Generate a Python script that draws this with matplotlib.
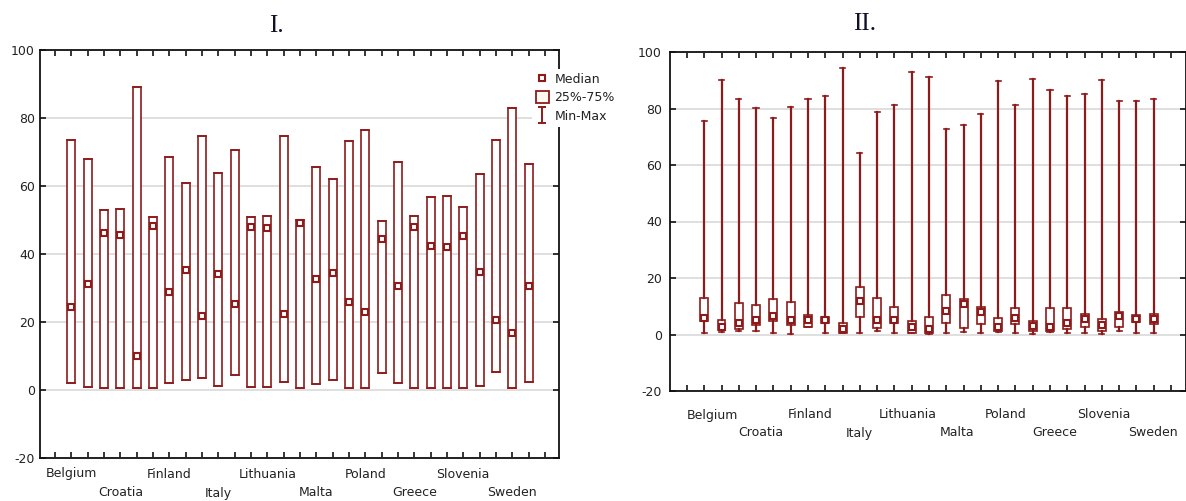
import numpy as np
import matplotlib
matplotlib.use("Agg")
import matplotlib.pyplot as plt
from matplotlib.patches import Patch
from matplotlib.lines import Line2D
from matplotlib.path import Path

plt.rcParams['font.family'] = ['DejaVu Sans']
plt.rcParams['axes.unicode_minus'] = False

# panel I: 29 groups, min/max coincide with the quartile box
left_q1 = [2.2, 1.0, 0.5, 0.5, 0.5, 0.5, 2.2, 2.9, 3.4, 1.3, 4.3, 1.0, 1.0, 2.5, 0.5,
           1.7, 2.9, 0.5, 0.5, 5.1, 2.2, 0.5, 0.5, 0.5, 0.5, 1.3, 5.4, 0.5, 2.5]
left_q3 = [73.5, 68.0, 52.9, 53.3, 89.0, 50.9, 68.5, 61.0, 74.8, 63.8, 70.6, 50.9, 51.2, 74.8, 50.0,
           65.7, 62.2, 73.1, 76.5, 49.7, 67.2, 51.2, 56.8, 57.2, 53.8, 63.5, 73.5, 82.8, 66.5]
left_med = [24.3, 31.1, 46.2, 45.6, 10.1, 48.3, 28.9, 35.3, 21.9, 34.1, 25.2, 48.0, 47.7, 22.3, 49.1,
            32.6, 34.3, 26.0, 23.0, 44.4, 30.7, 47.8, 42.4, 42.1, 45.4, 34.8, 20.6, 16.9, 30.7]

# panel II: 27 groups
right_min = [0.7, 1.0, 1.3, 1.3, 0.7, 0.3, 2.5, 0.4, 0.4, 0.7, 1.3, 0.7, 0.5, 0.3, 0.7,
             1.0, 0.7, 1.0, 0.7, 0.3, 1.0, 0.7, 0.7, 0.2, 1.3, 0.7, 0.7]
right_q1 = [4.8, 1.5, 1.9, 3.3, 4.8, 3.4, 2.5, 4.0, 0.4, 6.3, 2.2, 4.2, 0.7, 0.4, 4.2,
            2.2, 3.7, 1.1, 3.7, 1.3, 1.3, 2.1, 2.5, 1.3, 2.7, 4.5, 3.7]
right_med = [6.0, 2.5, 4.1, 5.1, 6.4, 5.2, 5.1, 5.1, 1.9, 11.7, 5.2, 5.2, 2.7, 1.8, 8.4,
             10.7, 8.0, 2.7, 5.7, 3.1, 2.7, 4.2, 5.4, 3.3, 6.6, 5.6, 5.4]
right_q3 = [12.9, 5.3, 11.0, 10.4, 12.4, 11.6, 6.8, 6.3, 3.9, 16.9, 12.9, 9.8, 4.8, 6.3, 14.0,
            12.5, 9.9, 5.8, 9.3, 4.8, 9.3, 9.3, 7.4, 5.4, 8.0, 7.0, 7.4]
right_max = [75.5, 90.1, 83.2, 80.1, 76.6, 80.6, 83.5, 84.6, 94.2, 64.4, 78.6, 81.1, 92.9, 91.2, 72.6,
             74.0, 78.0, 89.7, 81.1, 90.6, 86.6, 84.6, 85.1, 90.1, 82.6, 82.6, 83.2]

countries = ['Belgium', 'Croatia', 'Finland', 'Italy', 'Lithuania',
             'Malta', 'Poland', 'Greece', 'Slovenia', 'Sweden']

red = '#8e1b1b'
txt = '#222222'
fs = 9

fig = plt.figure(figsize=(11.86, 5.01), dpi=100)
W, H = 1186, 501
ax1 = fig.add_axes([40 / W, 1 - 458 / H, (559 - 40) / W, (458 - 50) / H])
ax2 = fig.add_axes([670 / W, 1 - 391 / H, (1185.5 - 670) / W, (391 - 52) / H])


def draw_boxes(ax, lo, q1, med, q3, hi, width, capw):
    stats = []
    for i in range(len(q1)):
        stats.append(dict(whislo=lo[i], q1=q1[i], med=med[i], q3=q3[i], whishi=hi[i]))
    pos = np.arange(1, len(q1) + 1)
    ax.bxp(stats, positions=pos, widths=width, capwidths=capw, showfliers=False,
           patch_artist=True, manage_ticks=False,
           boxprops=dict(facecolor='white', edgecolor=red, linewidth=1.2),
           whiskerprops=dict(color=red, linewidth=1.6),
           capprops=dict(color=red, linewidth=1.2),
           medianprops=dict(linewidth=0))
    ax.plot(pos, med, 's', ms=4.6, mfc='white', mec=red, mew=1.5, zorder=4)


def style_axis(ax, xmin, xmax, nticks, pad):
    ax.set_xlim(xmin, xmax)
    ax.set_ylim(-20, 100)
    ax.set_yticks(range(-20, 101, 20))
    ax.set_xticks(range(nticks))
    ax.set_xticklabels([])
    ax.set_axisbelow(True)
    ax.yaxis.grid(True, color='#dcdcdc', linewidth=1.3)
    ax.tick_params(direction='in', top=True, right=True, length=4, width=1.1,
                   labelsize=fs, labelcolor=txt, pad=pad)
    for s in ax.spines.values():
        s.set_linewidth(1.3)
        s.set_color('#111111')


def country_labels(ax, positions, row1, row2):
    for k, (x, name) in enumerate(zip(positions, countries)):
        dy = row1 if k % 2 == 0 else row2
        ax.annotate(name, xy=(x, 0), xycoords=('data', 'axes fraction'),
                    xytext=(0, -dy), textcoords='offset pixels',
                    ha='center', va='center', fontsize=fs, color=txt)


# panel I
draw_boxes(ax1, left_q1, left_q1, left_med, left_q3, left_q3, 0.5, 0.5)
style_axis(ax1, -0.92, 30.86, 31, 3.6)
country_labels(ax1, np.arange(1, 29, 3), 16, 35)

# panel II
draw_boxes(ax2, right_min, right_q1, right_med, right_q3, right_max, 0.46, 0.3)
style_axis(ax2, -0.98, 28.84, 29, 5.8)
country_labels(ax2, np.linspace(1.45, 26.93, 10), 24, 42)

# legend; the min-max key is an I-beam shaped marker
ibeam = Path([(-0.5, -1), (0.5, -1), (0, -1), (0, 1), (-0.5, 1), (0.5, 1)],
             [Path.MOVETO, Path.LINETO, Path.MOVETO, Path.LINETO, Path.MOVETO, Path.LINETO])
handles = [Line2D([], [], ls='none', marker='s', ms=4.6, mfc='white', mec=red, mew=1.5),
           Patch(facecolor='#fffaf0', edgecolor=red, linewidth=1.3),
           Line2D([], [], ls='none', marker=ibeam, ms=12, mfc='none', mec=red, mew=1.4)]
leg = ax1.legend(handles, ['Median', '25%-75%', 'Min-Max'], loc='upper left',
                 bbox_to_anchor=(532 / W, 1 - 69 / H), bbox_transform=fig.transFigure,
                 fontsize=fs, frameon=True, facecolor='white', edgecolor='none', framealpha=1,
                 fancybox=False, handlelength=1.04, handleheight=1.04, handletextpad=0.45,
                 labelspacing=0.45, borderpad=0.3, borderaxespad=0)
for t in leg.get_texts():
    t.set_color(txt)

fig.text(276 / W, 1 - 26 / H, 'I.', ha='center', va='center', fontsize=18,
         family='Liberation Serif', color='#10102a')
fig.text(865 / W, 1 - 24 / H, 'II.', ha='center', va='center', fontsize=18,
         family='Liberation Serif', color='#10102a')

fig.savefig('out.png', dpi=100)
